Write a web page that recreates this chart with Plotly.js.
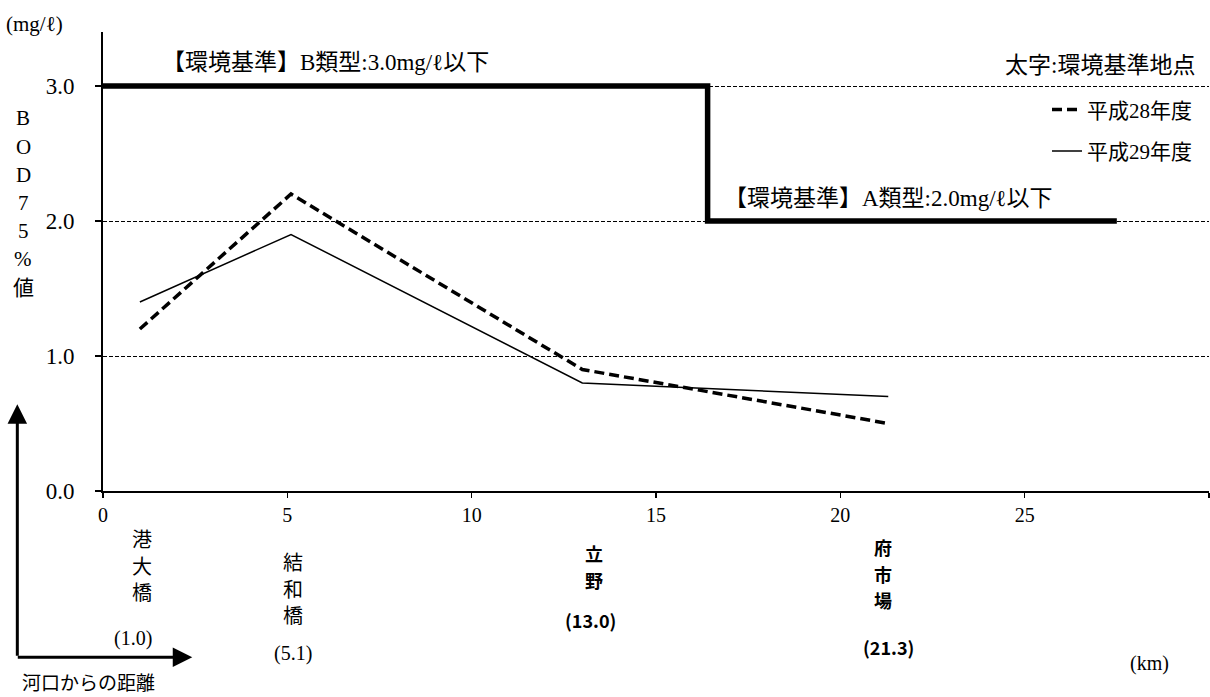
<!DOCTYPE html>
<html><head><meta charset="utf-8">
<script src="https://cdn.plot.ly/plotly-3.0.1.min.js"></script>
<style>html,body{margin:0;padding:0;background:#fff}#chart{width:1210px;height:697px}</style>
</head><body><div id="chart"></div>
<script>
// ---- data ----
const stationNames = ['港大橋', '結和橋', '立野', '府市場'];
const stationKm = [1.0, 5.1, 13.0, 21.3];
const stationBold = [false, false, true, true];
const bodH28 = [1.2, 2.2, 0.9, 0.5];
const bodH29 = [1.4, 1.9, 0.8, 0.7];
const stdKm = [0, 16.4, 27.5];
const stdValue = [3.0, 2.0, 2.0];
const seriesNames = ['平成28年度', '平成29年度'];
const xTickVals = [0, 5, 10, 15, 20, 25, 30];
const xTickText = ['0', '5', '10', '15', '20', '25', ''];
const yTickVals = [0, 1, 2, 3];
const yTickText = ['0.0', '1.0', '2.0', '3.0'];
const yTitleChars = ['B', 'O', 'D', '7', '5', '%', '値'];

// ---- layout helpers (pixel -> paper) ----
const L = 102.7, T = 31.5, W = 1106.3, H = 459.2;
const pX = x => (x - L) / W;
const pY = y => (T + H - y) / H;
const SERIF = 'Liberation Serif, Noto Sans CJK JP, serif';
const SANS = 'Noto Sans CJK JP, sans-serif';

// label placement (pixels) for station names and distances
const nameCX = [141.7, 293, 594, 883];
const nameTopCY = [540, 563, 553, 546.7];
const charStep = 26.6;
const distCX = [133, 293, 590.7, 888];
const distCY = [638, 653, 620, 646.7];

const traces = [
  {
    x: stdKm, y: stdValue, type: 'scatter', mode: 'lines',
    line: {color: '#000', width: 5.5, shape: 'hv'},
    showlegend: false, hoverinfo: 'skip'
  },
  {
    x: stationKm, y: bodH28, type: 'scatter', mode: 'lines', name: seriesNames[0],
    line: {color: '#000', width: 3.5, dash: '10px,5px'}, legendgroup: 'a'
  },
  {
    x: stationKm, y: bodH29, type: 'scatter', mode: 'lines', name: seriesNames[1],
    line: {color: '#000', width: 1.5}, legendgroup: 'b'
  }
];

const annotations = [];
const txt = (text, x, y, size, xanchor, family) =>
  annotations.push({
    text, x: pX(x), y: pY(y), xref: 'paper', yref: 'paper',
    xanchor: xanchor || 'center', yanchor: 'middle',
    showarrow: false, font: {family: family || SERIF, size, color: '#000'}
  });

txt('(mg/ℓ)', 4, 23, 21, 'left');
txt('【環境基準】B類型:3.0mg/ℓ以下', 160, 62, 23, 'left');
txt('【環境基準】A類型:2.0mg/ℓ以下', 722, 198, 23, 'left');
txt('太字:環境基準地点', 1197, 65, 23, 'right');
yTitleChars.forEach((c, i) => txt(c, 23, 118 + i * 28.2, 21, 'center'));
txt('(km)', 1149, 663, 20, 'center');
txt('河口からの距離', 20, 683, 19, 'left');

stationNames.forEach((n, i) => {
  const bold = stationBold[i];
  const fam = bold ? SANS : SERIF;
  n.split('').forEach((c, j) =>
    txt(bold ? '<b>' + c + '</b>' : c, nameCX[i], nameTopCY[i] + j * charStep, bold ? 18 : 20, 'center', fam));
  const dist = '(' + stationKm[i].toFixed(1) + ')';
  txt(bold ? '<b>' + dist + '</b>' : dist, distCX[i], distCY[i], bold ? 18 : 20, 'center', fam);
});

// axis arrows (河口からの距離 diagram)
annotations.push({
  x: pX(17), y: pY(404), xref: 'paper', yref: 'paper', text: '',
  showarrow: true, ax: 0, ay: 253, arrowhead: 2, arrowsize: 1.3, arrowwidth: 3,
  arrowcolor: '#000', standoff: 0, startstandoff: 0
});
annotations.push({
  x: pX(192), y: pY(657), xref: 'paper', yref: 'paper', text: '',
  showarrow: true, ax: -176, ay: 0, arrowhead: 2, arrowsize: 1.3, arrowwidth: 3,
  arrowcolor: '#000', standoff: 0, startstandoff: 0
});

const layout = {
  width: 1210, height: 697,
  margin: {l: L, r: 1210 - L - W, t: T, b: 697 - T - H, pad: 0},
  paper_bgcolor: '#fff', plot_bgcolor: '#fff',
  font: {family: SERIF, color: '#000'},
  xaxis: {
    range: [0, 30], tickvals: xTickVals, ticktext: xTickText,
    showline: true, linecolor: '#000', linewidth: 2,
    ticks: 'outside', ticklen: 5, tickwidth: 1.5, tickcolor: '#000',
    showgrid: false, zeroline: false,
    tickfont: {family: SERIF, size: 20, color: '#000'}
  },
  yaxis: {
    range: [0, 3.4], tickvals: yTickVals, ticktext: yTickText,
    showline: true, linecolor: '#000', linewidth: 2,
    ticks: 'outside', ticklen: 6, tickwidth: 1.5, tickcolor: '#000',
    showgrid: true, gridcolor: '#000', gridwidth: 1, griddash: '4px,2px',
    zeroline: false, ticklabelstandoff: 16,
    tickfont: {family: SERIF, size: 23, color: '#000'}
  },
  showlegend: true,
  legend: {
    x: pX(1197), y: pY(89), xanchor: 'right', yanchor: 'top',
    bgcolor: 'rgba(0,0,0,0)', borderwidth: 0,
    traceorder: 'grouped', tracegroupgap: 11,
    font: {family: SERIF, size: 21, color: '#000'}
  },
  annotations
};

Plotly.newPlot('chart', traces, layout, {staticPlot: true, displayModeBar: false});
</script>
</body></html>
